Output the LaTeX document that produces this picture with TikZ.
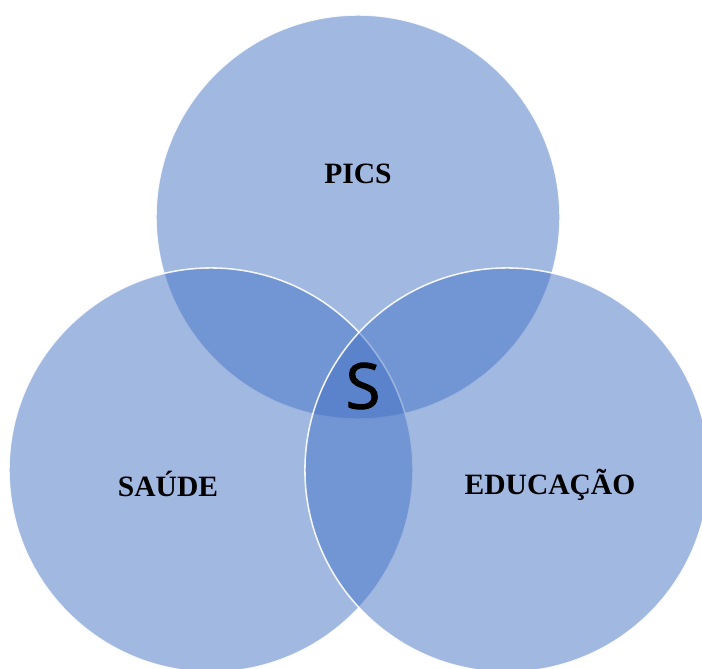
\documentclass[tikz,border=0pt]{standalone}
\usepackage{fontspec}
\setmainfont{Liberation Serif}
\newfontfamily\centrefont[FakeBold=1.5]{Open Sans}
\usetikzlibrary{positioning}
\definecolor{vennblue}{HTML}{4472C4}
\tikzset{
  setcircle/.style={circle, minimum size=10.1cm, inner sep=0pt, fill=vennblue, fill opacity=0.5, draw=white, draw opacity=0.9, line width=1.1pt},
  setlabel/.style={font=\fontsize{21}{24}\selectfont\bfseries}
}

\begin{document}
\begin{tikzpicture}[x=0.025cm,y=-0.025cm]
\useasboundingbox (0,0) rectangle (702,669);
\clip (0,0) rectangle (702,669);

% The three sets
\node[setcircle] (pics) at (358,217) {};
\node[setcircle] (saude) at (211,470) {};
\node[setcircle] (educ) at (507,470) {};

% Labels
\node[setlabel] (picslabel) at (358,174) {PICS};
\node[setlabel] (saudelabel) at (168,484) {SAÚDE};
\node[setlabel] (educlabel) at (550,485) {EDUCAÇÃO};

% Centre
\node[font=\centrefont\fontsize{45}{48}\selectfont] (centre) at (363,386) {S};
\end{tikzpicture}
\end{document}
